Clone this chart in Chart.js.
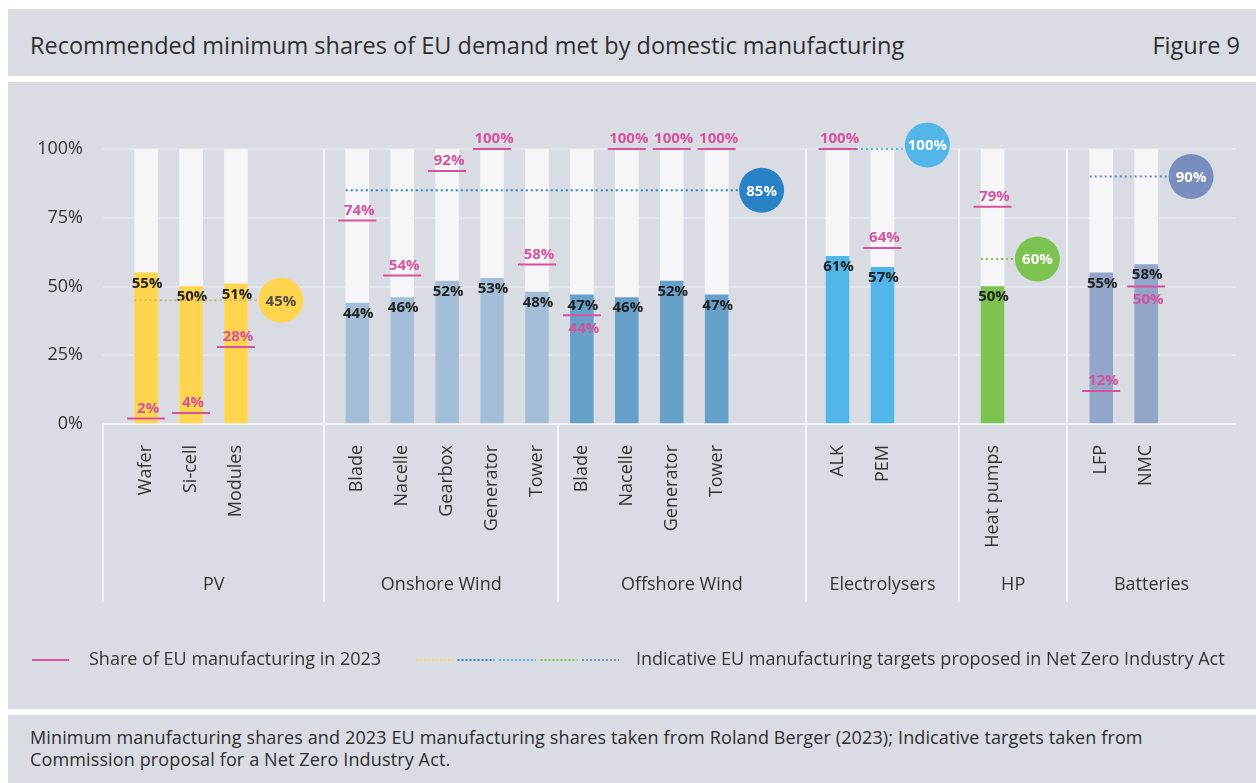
<!DOCTYPE html>
<html>
<head>
<meta charset="utf-8">
<script src="https://cdn.jsdelivr.net/npm/chart.js@4.4.1/dist/chart.umd.min.js"></script>
<style>
  body { margin: 0; background: #fff; width: 1256px; height: 783px; position: relative; overflow: hidden;
         font-family: "Open Sans", sans-serif; color: #2e2e2e; }
  .panel { position: absolute; left: 8px; width: 1248px; background: #d9dce3; }
  #head { top: 9px; height: 67px; }
  #head .t { position: absolute; left: 22px; top: 0; font-size: 23.5px; line-height: 72px; white-space: nowrap; }
  #head .f { position: absolute; right: 16px; top: 0; font-size: 23.5px; line-height: 72px; }
  #body { top: 82px; height: 627px; }
  #foot { top: 715px; height: 68px; font-size: 18px; letter-spacing: 0.13px; line-height: 21.5px;
          padding: 12px 0 0 22px; box-sizing: border-box; }
</style>
</head>
<body>
<div class="panel" id="head">
  <div class="t">Recommended minimum shares of EU demand met by domestic manufacturing</div>
  <div class="f">Figure 9</div>
</div>
<div class="panel" id="body">
  <canvas id="sharesChart" width="1248" height="627"></canvas>
</div>
<div class="panel" id="foot">Minimum manufacturing shares and 2023 EU manufacturing shares taken from Roland Berger (2023); Indicative targets taken from<br>Commission proposal for a Net Zero Industry Act.</div>
<script>
const barNames = ["Wafer", "Si-cell", "Modules", "Blade", "Nacelle", "Gearbox", "Generator", "Tower",
                  "Blade", "Nacelle", "Generator", "Tower", "ALK", "PEM", "Heat pumps", "LFP", "NMC"];
const groupNames = ["PV", "Onshore Wind", "Offshore Wind", "Electrolysers", "HP", "Batteries"];
const groupSizes = [3, 5, 4, 2, 1, 2];
const minShare = [55, 50, 51, 44, 46, 52, 53, 48, 47, 46, 52, 47, 61, 57, 50, 55, 58];
const share2023 = [2, 4, 28, 74, 54, 92, 100, 58, 44, 100, 100, 100, 100, 64, 79, 12, 50];
const targetValues = [45, 85, 100, 60, 90];
const targetGroups = [[0], [1, 2], [3], [4], [5]];
const yTicks = [0, 25, 50, 75, 100];

// layout: space before first / after last bar of each group, in bar-to-bar steps
const groupPad = [[0.96, 1.97], [0.73, 0.47], [0.53, 1.98], [0.71, 1.71], [0.74, 1.66], [0.76, 2.0]];
const barColors = ["#ffd54f", "#a3bed6", "#67a0c8", "#52b7e8", "#7dc352", "#93a5c9"];
const targetColors = ["#ffd54f", "#2a82c6", "#52b7e8", "#7dc352", "#7a8dbf"];
const targetLineColors = ["#cdb35f", "#2f88c4", "#52b7e8", "#7dc352", "#6f84bd"];
const targetTextColors = ["#4d4d4d", "#fff", "#fff", "#fff", "#fff"];
const magenta = "#d6529f";
const sepColor = "#f3f4f7";
const FONT = '"Open Sans", sans-serif';

const barX = [], barGroup = [], groupEdges = [];
let pos = 0;
groupSizes.forEach((n, g) => {
    const start = pos;
    pos += groupPad[g][0];
    for (let i = 0; i < n; i++) { barX.push(pos + i); barGroup.push(g); }
    pos += (n - 1) + groupPad[g][1];
    groupEdges.push([start, pos]);
});
const xMax = pos;
const sameTarget = g => targetGroups.some(t => t.includes(g) && t.includes(g - 1));

const overlay = {
    id: "overlay",
    beforeDatasetsDraw(chart) {
        const { ctx, chartArea: a, scales: { x } } = chart;
        ctx.save();
        ctx.strokeStyle = sepColor;
        ctx.lineWidth = 2;
        groupEdges.forEach(([s], g) => {
            const px = Math.round(x.getPixelForValue(s));
            const top = (g > 0 && !sameTarget(g)) ? a.top : a.bottom;
            ctx.beginPath();
            ctx.moveTo(px, top);
            ctx.lineTo(px, a.bottom + 178);
            ctx.stroke();
        });
        ctx.restore();
    },
    afterDatasetsDraw(chart) {
        const { ctx, chartArea: a, scales: { x, y } } = chart;
        ctx.save();
        ctx.textAlign = "center";
        ctx.textBaseline = "middle";

        // black labels: recommended minimum share
        ctx.font = "bold 15px " + FONT;
        ctx.fillStyle = "#222";
        minShare.forEach((v, i) => {
            ctx.fillText(v + "%", x.getPixelForValue(barX[i]) + 1, y.getPixelForValue(v) + 10.5);
        });

        // target dotted lines
        targetValues.forEach((v, t) => {
            const gs = targetGroups[t];
            const first = barX[barGroup.indexOf(gs[0])];
            const last = barX[barGroup.lastIndexOf(gs[gs.length - 1])];
            const py = y.getPixelForValue(v);
            ctx.strokeStyle = targetLineColors[t];
            ctx.lineWidth = 2;
            ctx.setLineDash([2, 3]);
            ctx.beginPath();
            ctx.moveTo(x.getPixelForValue(first) - 11.5, py);
            ctx.lineTo(x.getPixelForValue(last + 1), py);
            ctx.stroke();
        });
        ctx.setLineDash([]);

        // 2023 share markers
        share2023.forEach((v, i) => {
            const px = x.getPixelForValue(barX[i]);
            const below = minShare[i] - v > 0 && minShare[i] - v <= 10;
            let py = y.getPixelForValue(v);
            if (below) py = Math.max(py, y.getPixelForValue(minShare[i]) + 20.5);
            ctx.strokeStyle = magenta;
            ctx.lineWidth = 2;
            ctx.beginPath();
            ctx.moveTo(px - 19, py);
            ctx.lineTo(px + 19, py);
            ctx.stroke();
            ctx.fillStyle = magenta;
            ctx.font = "bold 15px " + FONT;
            ctx.fillText(v + "%", px + 2, below ? py + 13.5 : py - 10);
        });

        // target circles
        targetValues.forEach((v, t) => {
            const gs = targetGroups[t];
            const last = barX[barGroup.lastIndexOf(gs[gs.length - 1])];
            const cx = x.getPixelForValue(last + 1);
            const cy = y.getPixelForValue(v) - (v === 100 ? 4 : 0);
            ctx.fillStyle = targetColors[t];
            ctx.beginPath();
            ctx.arc(cx, cy, 22.5, 0, Math.PI * 2);
            ctx.fill();
            ctx.fillStyle = targetTextColors[t];
            ctx.font = "bold 15px " + FONT;
            ctx.fillText(v + "%", cx, cy + 1);
        });

        // group labels
        ctx.font = "18px " + FONT;
        ctx.fillStyle = "#333";
        groupEdges.forEach(([s, e], g) => {
            const cx = (x.getPixelForValue(s) + x.getPixelForValue(e)) / 2;
            ctx.fillText(groupNames[g], cx, a.bottom + 161);
        });

        // legend
        const ly = a.bottom + 236;
        ctx.textAlign = "left";
        ctx.strokeStyle = magenta;
        ctx.lineWidth = 2;
        ctx.beginPath();
        ctx.moveTo(24, ly);
        ctx.lineTo(61, ly);
        ctx.stroke();
        ctx.fillStyle = "#333";
        ctx.fillText("Share of EU manufacturing in 2023", 81, ly);
        ctx.setLineDash([2, 2]);
        targetColors.forEach((c, t) => {
            ctx.strokeStyle = c;
            ctx.beginPath();
            ctx.moveTo(408 + t * 41.5, ly);
            ctx.lineTo(445 + t * 41.5, ly);
            ctx.stroke();
        });
        ctx.setLineDash([]);
        ctx.fillText("Indicative EU manufacturing targets proposed in Net Zero Industry Act", 628, ly);
        ctx.restore();
    }
};

new Chart(document.getElementById("sharesChart"), {
    type: "bar",
    data: {
        datasets: [{
            label: "Recommended minimum share",
            data: barX.map((v, i) => ({ x: v, y: minShare[i] })),
            backgroundColor: barGroup.map(g => barColors[g]),
            grouped: false,
            order: 1,
            barThickness: 23
        }, {
            label: "EU demand",
            data: barX.map(v => ({ x: v, y: 100 })),
            backgroundColor: "#f6f6f8",
            grouped: false,
            order: 2,
            barThickness: 23
        }]
    },
    options: {
        responsive: false,
        animation: false,
        devicePixelRatio: 1,
        layout: { padding: { top: 67, right: 20, left: 0, bottom: 0 } },
        plugins: { legend: { display: false }, tooltip: { enabled: false } },
        scales: {
            x: {
                type: "linear",
                min: 0,
                max: xMax,
                offset: false,
                grid: { display: false, drawTicks: false },
                border: { display: false },
                afterBuildTicks: s => { s.ticks = barX.map(v => ({ value: v })); },
                afterFit: s => { s.height = 285; },
                ticks: {
                    autoSkip: false,
                    minRotation: 90,
                    maxRotation: 90,
                    padding: 21,
                    color: "#333",
                    font: { family: FONT, size: 18 },
                    callback: (v, i) => barNames[i]
                }
            },
            y: {
                min: 0,
                max: 100,
                afterBuildTicks: s => { s.ticks = yTicks.map(v => ({ value: v })); },
                afterFit: s => { s.width = 95; },
                grid: {
                    drawTicks: false,
                    lineWidth: 2,
                    color: c => (c.tick && c.tick.value === 0) ? sepColor : "#e3e6eb"
                },
                border: { display: false },
                ticks: {
                    padding: 20,
                    color: "#333",
                    font: { family: FONT, size: 18 },
                    callback: v => v + "%"
                }
            }
        }
    },
    plugins: [overlay]
});
</script>
</body>
</html>
